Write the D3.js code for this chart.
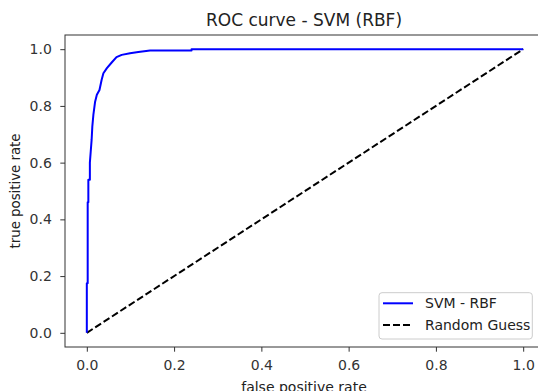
<!DOCTYPE html>
<html lang="en">
<head>
<meta charset="UTF-8">
<title>ROC curve - SVM (RBF)</title>
<style>
  body { margin: 0; background: #fff; }
  svg { display: block; font-family: "DejaVu Sans", sans-serif; }
  .tick text { fill: #333; }
</style>
</head>
<body>
<svg id="chart" width="538" height="391"></svg>
<script src="https://d3js.org/d3.v7.min.js"></script>
<script>
// ROC points (false positive rate / true positive rate)
const fpr = [0, 0, 0.002, 0.002, 0.0035, 0.0035, 0.007, 0.007, 0.009, 0.011, 0.0126, 0.015, 0.019, 0.023, 0.029, 0.034, 0.038, 0.046, 0.057, 0.068, 0.080, 0.099, 0.118, 0.145, 0.240, 0.240, 1.0];
const tpr = [0, 0.175, 0.175, 0.46, 0.46, 0.54, 0.54, 0.60, 0.64, 0.68, 0.727, 0.768, 0.815, 0.839, 0.856, 0.892, 0.915, 0.933, 0.953, 0.972, 0.980, 0.986, 0.990, 0.995, 0.995, 1.0, 1.0];
const guess = [0, 1];
const xTicks = [0, 0.2, 0.4, 0.6, 0.8, 1.0];
const yTicks = [0, 0.2, 0.4, 0.6, 0.8, 1.0];
const seriesNames = ["SVM - RBF", "Random Guess"];

const svg = d3.select("#chart");
const m = { left: 65, right: 545, top: 35, bottom: 347 };

const x = d3.scaleLinear().domain([-0.05, 1.05]).range([m.left, m.right]);
const y = d3.scaleLinear().domain([-0.05, 1.05]).range([m.bottom, m.top]);

// axes
const xAxis = svg.append("g")
    .attr("transform", `translate(0,${m.bottom})`)
    .call(d3.axisBottom(x).tickValues(xTicks).tickFormat(d3.format(".1f")).tickSize(4.7).tickPadding(8));
const yAxis = svg.append("g")
    .attr("transform", `translate(${m.left},0)`)
    .call(d3.axisLeft(y).tickValues(yTicks).tickFormat(d3.format(".1f")).tickSize(4.7).tickPadding(8.5));
[xAxis, yAxis].forEach(g => {
  g.select(".domain").remove();
  g.selectAll(".tick line").attr("stroke", "#333").attr("stroke-width", 1);
  g.selectAll(".tick text").attr("font-size", 14).attr("font-family", "DejaVu Sans");
});

// spines (right one falls outside the picture)
svg.append("rect")
    .attr("x", m.left).attr("y", m.top)
    .attr("width", m.right - m.left).attr("height", m.bottom - m.top)
    .attr("fill", "none").attr("stroke", "#333").attr("stroke-width", 1);

// lines
const line = d3.line().x(d => x(d[0])).y(d => y(d[1]));
svg.append("path")
    .attr("d", line(guess.map(v => [v, v])))
    .attr("fill", "none").attr("stroke", "#000").attr("stroke-width", 2)
    .attr("stroke-dasharray", "7,3");
svg.append("path")
    .attr("d", line(fpr.map((f, i) => [f, tpr[i]])))
    .attr("fill", "none").attr("stroke", "#0000ff").attr("stroke-width", 2)
    .attr("stroke-linejoin", "round");

// title and labels
svg.append("text")
    .attr("x", 304).attr("y", 26)
    .attr("text-anchor", "middle").attr("font-size", 17).attr("fill", "#222")
    .text("ROC curve - SVM (RBF)");
svg.append("text")
    .attr("x", 304).attr("y", 392)
    .attr("text-anchor", "middle").attr("font-size", 14).attr("fill", "#222")
    .text("false positive rate");
svg.append("text")
    .attr("transform", `translate(20,${(m.top + m.bottom) / 2}) rotate(-90)`)
    .attr("text-anchor", "middle").attr("font-size", 13.3).attr("fill", "#222")
    .text("true positive rate");

// legend
const legend = svg.append("g");
legend.append("rect")
    .attr("x", 379).attr("y", 292.7).attr("width", 153.3).attr("height", 46.3)
    .attr("rx", 3).attr("fill", "#fff").attr("fill-opacity", 0.8)
    .attr("stroke", "#ccc").attr("stroke-width", 1);
const legendStyle = [
  { stroke: "#0000ff", dash: null, y: 303.3 },
  { stroke: "#000", dash: "7,3", y: 325 }
];
seriesNames.forEach((name, i) => {
  const s = legendStyle[i];
  legend.append("line")
      .attr("x1", 383).attr("x2", 413).attr("y1", s.y).attr("y2", s.y)
      .attr("stroke", s.stroke).attr("stroke-width", 2)
      .attr("stroke-dasharray", s.dash);
  legend.append("text")
      .attr("x", 425).attr("y", s.y).attr("dy", "0.36em")
      .attr("font-size", 14).attr("fill", "#222")
      .text(name);
});
</script>
</body>
</html>
